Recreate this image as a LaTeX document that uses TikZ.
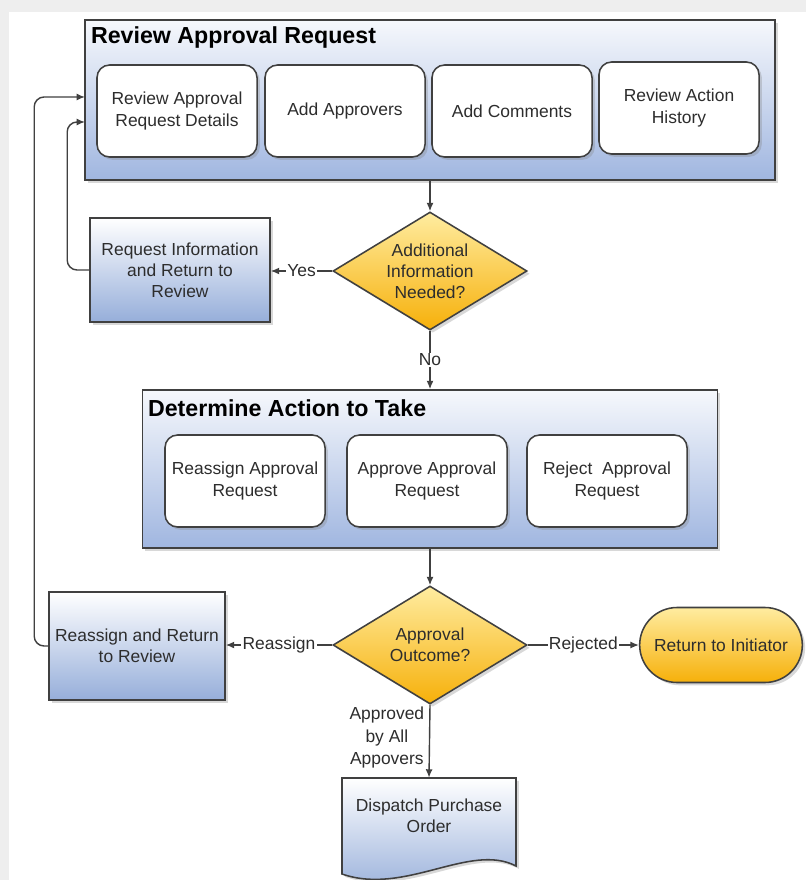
\documentclass[tikz,border=0pt]{standalone}
\usepackage{fontspec}
\setmainfont{Liberation Sans}
\usepackage{tikz}
\usetikzlibrary{calc, positioning, arrows.meta, shapes.geometric, shapes.misc, shadows}
\definecolor{framegray}{RGB}{238,238,238}
\definecolor{linegray}{RGB}{64,64,64}
\definecolor{textgray}{RGB}{45,45,45}
\definecolor{boxblue}{RGB}{150,174,218}
\definecolor{groupblue}{RGB}{160,182,224}
\definecolor{groupwhite}{RGB}{246,248,252}
\definecolor{goldtop}{RGB}{255,236,160}
\definecolor{goldbottom}{RGB}{246,176,10}

\begin{document}
\begin{tikzpicture}[x=0.025cm,y=-0.025cm]
  \tikzset{
    every node/.style={font=\fontsize{12.4}{15}\selectfont, text=textgray, align=center},
    soft shadow/.style={drop shadow={opacity=0.3, shadow xshift=2pt, shadow yshift=-2pt}},
    group box/.style={draw=linegray, line width=1.1pt, top color=groupwhite, bottom color=groupblue, soft shadow},
    task box/.style={draw=linegray, line width=1.1pt, fill=white, rounded corners=9pt,
      minimum width=4cm, minimum height=2.3cm, soft shadow},
    step box/.style={draw=linegray, line width=1.1pt, top color=white, bottom color=boxblue, soft shadow},
    decision/.style={diamond, aspect=1.65, draw=linegray, line width=1.1pt, top color=goldtop, bottom color=goldbottom,
      minimum width=4.85cm, minimum height=2.95cm, inner sep=0pt, soft shadow},
    group title/.style={font=\fontsize{16.5}{19}\bfseries\selectfont, text=black, anchor=west, inner sep=2pt},
    arr/.style={draw=linegray, line width=1pt, -{Latex[length=6pt,width=5pt]}},
    edge label/.style={fill=white, inner sep=1pt}
  }
  \fill[framegray] (0,0) rectangle (806,880);
  \fill[white] (9,12) rectangle (806,880);
  \useasboundingbox (0,0) rectangle (806,880);
  % review group
  \node[group box, minimum width=17.25cm, minimum height=4cm] (review) at (430,100) {};
  \node[group title] (reviewtitle) at (88,38) {Review Approval Request};
  \node[task box] (details) at (177,111) {Review Approval\\Request Details};
  \node[task box] (approvers) at (345,111) {Add Approvers};
  \node[task box] (comments) at (512,111) {Add Comments};
  \node[task box] (history) at (679,108) {Review Action\\History};
  \coordinate (in1) at (85,97);
  \coordinate (in2) at (85,122);
  % first decision
  \node[decision] (moreinfo) at (430,271) {Additional\\Information\\Needed?};
  \node[step box, minimum width=4.5cm, minimum height=2.6cm] (reqinfo) at (180,270) {Request Information\\and Return to\\Review};
  % determine group
  \node[group box, minimum width=14.375cm, minimum height=3.95cm] (determine) at (430,469) {};
  \node[group title] (determinetitle) at (145,408) {Determine Action to Take};
  \node[task box] (reassignreq) at (245,481) {Reassign Approval\\Request};
  \node[task box] (approvereq) at (427,481) {Approve Approval\\Request};
  \node[task box] (rejectreq) at (607,481) {Reject\ \ Approval\\Request};
  % second decision
  \node[decision] (outcome) at (430,645) {Approval\\Outcome?};
  \node[step box, minimum width=4.4cm, minimum height=2.7cm] (reassign) at (137,646) {Reassign and Return\\to Review};
  \node[rounded rectangle, draw=linegray, line width=1.1pt, top color=goldtop, bottom color=goldbottom,
    minimum width=4.3cm, minimum height=1.875cm, soft shadow] (initiator) at (721,645) {Return to Initiator};
  \path[step box] (342,778) -- (516,778) -- (516,866) .. controls (470,842) and (405,896) .. (342,874) -- cycle;
  \node[minimum width=4.35cm, minimum height=1.9cm] (dispatch) at (429,816) {Dispatch Purchase\\Order};
  % connectors
  \draw[arr] (review.south) -- (moreinfo.north);
  \draw[arr] (moreinfo.west) -- node[edge label]{Yes} (reqinfo.east |- moreinfo.west);
  \draw[arr] (moreinfo.south) -- node[edge label]{No} (determine.north);
  \draw[arr] (determine.south) -- (outcome.north);
  \draw[arr] (outcome.west) -- node[edge label]{Reassign} (reassign.east |- outcome.west);
  \draw[arr] (outcome.east) -- node[edge label]{Rejected} (initiator.west);
  \draw[arr] (outcome.south) -- node[left, pos=0.45, font=\fontsize{12.4}{16}\selectfont]{Approved\\by All\\Appovers} (dispatch.north);
  \draw[arr, rounded corners=7pt] (reqinfo.west) -- ++(-22,0) |- (in2);
  \draw[arr, rounded corners=7pt] (reassign.west) -- ++(-14,0) |- (in1);
\end{tikzpicture}
\end{document}
